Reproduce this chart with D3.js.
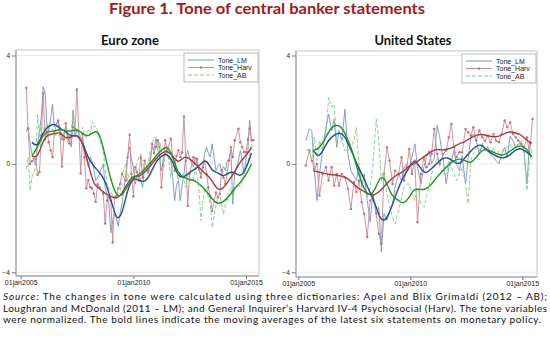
<!DOCTYPE html>
<html><head><meta charset="utf-8">
<script src="https://cdn.jsdelivr.net/npm/d3@7"></script>
<style>body{margin:0;background:#fff}svg{display:block}</style>
</head><body>
<svg id="c" width="550" height="346"></svg>
<script>
// ---------- DATA ----------
const seriesNames = ["Tone_LM", "Tone_Harv", "Tone_AB"];
const xTickLabels = ["2005-01-01", "2010-01-01", "2015-01-01"];
const yTicks = [-4, 0, 4];

// Euro zone statement dates (monthly, no August)
const ezDates = [
"2005-04","2005-05","2005-06","2005-07","2005-09","2005-10","2005-11","2005-12",
"2006-01","2006-02","2006-03","2006-04","2006-05","2006-06","2006-07","2006-09","2006-10","2006-11","2006-12",
"2007-01","2007-02","2007-03","2007-04","2007-05","2007-06","2007-07","2007-09","2007-10","2007-11","2007-12",
"2008-01","2008-02","2008-03","2008-04","2008-05","2008-06","2008-07","2008-09","2008-10","2008-11","2008-12",
"2009-01","2009-02","2009-03","2009-04","2009-05","2009-06","2009-07","2009-09","2009-10","2009-11","2009-12",
"2010-01","2010-02","2010-03","2010-04","2010-05","2010-06","2010-07","2010-09","2010-10","2010-11","2010-12",
"2011-01","2011-02","2011-03","2011-04","2011-05","2011-06","2011-07","2011-09","2011-10","2011-11","2011-12",
"2012-01","2012-02","2012-03","2012-04","2012-05","2012-06","2012-07","2012-09","2012-10","2012-11","2012-12",
"2013-01","2013-02","2013-03","2013-04","2013-05","2013-06","2013-07","2013-09","2013-10","2013-11","2013-12",
"2014-01","2014-02","2014-03","2014-04","2014-05","2014-06","2014-07","2014-09","2014-10","2014-11","2014-12",
"2015-01","2015-02","2015-03","2015-04","2015-05"];
const ezLM = [
1.2,1.36,0.8,0.37,-0.06,0.74,1.2,1.73,
2.85,2.6,1.49,1.2,1.67,2.2,1.36,1.6,1.24,0.87,1.1,
1.36,1.1,0.87,0.62,1.98,0.99,1.24,1.0,0.87,0.62,0.3,
-0.12,0.25,0.1,-0.2,-0.62,-0.5,-0.37,0.0,-0.87,-1.2,-1.49,
-2.54,-2.1,-1.86,-2.0,-2.3,-1.8,-1.49,-0.37,0.31,0.62,0.2,
-0.12,-0.74,-0.5,-0.37,-0.6,-0.87,-0.12,-0.37,0.2,0.62,0.5,
0.93,0.5,0.25,-0.25,0.12,0.5,0.3,0.12,-0.5,-1.36,-0.8,
-0.62,-1.36,-0.8,-0.37,0.25,0.5,0.2,-0.12,0.25,0.0,-0.2,
-0.37,-0.1,0.37,0.62,0.4,0.25,0.74,-0.25,-0.1,0.0,-0.25,
-0.1,-0.25,0.1,0.2,0.5,-1.49,-0.37,0.12,0.5,0.1,-0.37,
0.2,0.5,1.61,0.87,0.87];
const ezHarv = [
2.8,1.3,0.0,0.1,0.2,-0.4,-0.3,1.05,
2.6,0.9,1.2,0.8,0.5,0.25,1.2,1.6,1.1,-0.1,0.9,
1.5,1.0,0.75,1.0,1.35,1.3,2.75,-0.35,1.1,0.25,-0.9,
-0.6,-0.85,-0.9,-1.1,-1.4,-0.75,-0.87,-1.1,-2.2,-1.35,-1.24,
-1.36,-2.9,-1.24,-1.18,-0.9,-0.74,-0.37,-0.62,0.25,1.08,-0.37,
-1.2,-0.12,-0.3,-0.62,0.25,-0.5,0.12,-0.25,0.0,0.74,0.4,
0.62,0.87,0.62,-0.87,-0.06,0.87,0.5,0.93,0.25,-0.25,0.3,
0.5,0.25,0.43,1.75,0.12,-1.55,-0.37,0.25,0.0,0.19,-0.2,
-0.5,-0.12,0.12,-0.37,-0.87,-1.2,-1.73,-1.05,-1.24,-1.11,-0.25,
-0.5,-0.74,-0.37,0.12,0.62,0.25,0.87,1.3,0.8,0.62,0.43,
0.43,0.9,1.3,0.87,0.87];
const ezAB = [
-0.2,0.25,-1.0,-0.5,-0.12,1.8,1.0,1.49,
1.3,1.24,1.49,1.0,1.11,1.3,1.0,1.2,1.4,0.9,1.1,
1.3,0.8,1.0,1.2,2.0,1.1,1.3,0.87,1.36,1.0,0.99,
1.24,1.1,1.55,1.36,1.4,1.2,0.9,0.5,-0.2,-0.74,-0.9,
-1.0,-1.18,-1.3,-1.24,-0.87,-1.0,-0.4,0.0,-0.62,-0.3,-0.37,
-0.37,-0.12,0.0,0.25,0.37,0.0,-0.12,0.0,0.5,0.7,0.99,
0.99,0.62,0.8,0.5,-0.12,0.3,0.62,-0.5,0.0,0.12,-0.3,
-0.62,-0.3,-0.37,-0.6,-0.87,-0.37,-0.5,-0.62,-0.12,-0.5,-0.99,
-2.1,-1.36,-1.0,-0.87,-1.24,-1.5,-2.35,-1.49,-1.3,-1.11,-1.5,
-1.86,-1.5,-1.36,-1.0,-0.87,-1.24,-0.9,-0.74,-0.87,-0.6,-0.37,
-0.12,0.1,0.37,0.74,0.5];

// Euro zone moving averages (bold lines)
const ezMaDates = [
"2005-07","2005-10","2006-01","2006-04","2006-07","2006-10","2007-01","2007-04","2007-07","2007-10",
"2008-01","2008-04","2008-07","2008-10","2009-01","2009-04","2009-07","2009-10","2010-01","2010-04",
"2010-07","2010-10","2011-01","2011-04","2011-07","2011-10","2012-01","2012-04","2012-07","2012-10",
"2013-01","2013-04","2013-07","2013-10","2014-01","2014-04","2014-07","2014-10","2015-01","2015-04"];
const ezLMma = [0.8,0.6,1.2,1.4,1.5,1.3,1.2,1.0,1.1,0.8, 0.2,-0.1,-0.3,-0.6,-1.3,-2.1,-1.9,-0.9,-0.5,-0.6,
 -0.7,-0.4,0.1,0.3,0.4,0.1,-0.5,-0.5,-0.3,-0.2, 0.0,0.2,-0.3,-0.3,-0.5,-0.3,-0.3,-0.5,-0.2,0.4];
const ezHarvma = [0.3,0.2,0.9,1.1,1.1,1.2,0.9,1.0,1.1,0.8, 0.0,-0.8,-0.9,-1.1,-1.2,-1.3,-1.1,-0.7,-0.4,-0.5,
 -0.3,-0.1,0.2,0.4,0.5,0.3,0.0,0.3,0.2,0.0, -0.2,-0.4,-0.6,-1.0,-0.9,-0.6,-0.3,0.1,0.3,0.6];
const ezABma = [0.3,0.6,1.1,1.2,1.2,1.3,1.2,1.2,1.3,1.1, 1.0,1.2,1.2,0.3,-0.6,-1.2,-1.2,-0.8,-0.5,-0.4,
 -0.2,0.0,0.3,0.5,0.7,0.3,-0.4,-0.5,-0.6,-0.6, -0.8,-1.0,-1.3,-1.5,-1.4,-1.2,-0.9,-0.7,-0.4,0.0];

// United States statement dates (FOMC meetings)
const usDates = [
"2005-05-03","2005-06-30","2005-08-09","2005-09-20","2005-11-01","2005-12-13",
"2006-01-31","2006-03-28","2006-05-10","2006-06-29","2006-08-08","2006-09-20","2006-10-25","2006-12-12",
"2007-01-31","2007-03-21","2007-05-09","2007-06-28","2007-08-07","2007-09-18","2007-10-31","2007-12-11",
"2008-01-30","2008-03-18","2008-04-30","2008-06-25","2008-08-05","2008-09-16","2008-10-29","2008-12-16",
"2009-01-28","2009-03-18","2009-04-29","2009-06-24","2009-08-12","2009-09-23","2009-11-04","2009-12-16",
"2010-01-27","2010-03-16","2010-04-28","2010-06-23","2010-08-10","2010-09-21","2010-11-03","2010-12-14",
"2011-01-26","2011-03-15","2011-04-27","2011-06-22","2011-08-09","2011-09-21","2011-11-02","2011-12-13",
"2012-01-25","2012-03-13","2012-04-25","2012-06-20","2012-08-01","2012-09-13","2012-10-24","2012-12-12",
"2013-01-30","2013-03-20","2013-05-01","2013-06-19","2013-07-31","2013-09-18","2013-10-30","2013-12-18",
"2014-01-29","2014-03-19","2014-04-30","2014-06-18","2014-07-30","2014-09-17","2014-10-29","2014-12-17",
"2015-01-28","2015-03-18","2015-04-29","2015-06-17"];
const usLM = [
0.86,1.29,1.23,-0.25,-1.35,-0.37,
0.49,1.35,1.84,1.23,1.66,0.61,1.23,0.86,
2.02,0.37,-0.25,-0.45,-0.61,-0.12,-0.86,-0.37,
-1.35,-2.15,-1.1,-1.84,-1.6,-3.25,-1.84,-2.09,
-1.8,-1.47,-0.86,-0.37,-0.61,-0.1,0.0,-0.12,
0.25,0.74,-0.12,-0.74,-0.12,0.25,0.49,0.0,
0.2,1.41,0.98,0.12,-0.74,-0.12,0.12,0.49,
0.0,-0.25,0.31,-0.74,0.2,0.98,1.1,0.86,
0.37,0.74,0.49,0.61,0.37,0.25,0.12,0.0,
0.37,0.61,0.25,1.04,0.86,0.61,0.74,0.74,
0.49,-0.74,0.8,0.8];
const usHarv = [
-0.06,0.49,0.12,-0.18,0.0,-1.17,
-0.37,-0.12,-0.61,-0.12,-0.8,-0.37,-0.8,-0.37,
-0.49,-0.92,-1.66,-0.67,-1.04,-0.61,-1.41,-1.84,
-2.7,-1.35,-1.23,-1.84,-2.58,-2.94,-0.37,0.61,
0.12,-0.74,-0.25,-0.37,0.25,-0.61,-0.12,0.55,
-0.37,0.12,-2.15,-0.37,0.25,-0.12,0.0,0.37,
1.29,0.37,0.0,0.37,0.49,0.98,1.47,0.61,
0.25,0.43,0.43,1.29,1.17,1.04,1.35,0.86,
1.23,0.98,0.86,1.04,0.8,1.1,0.86,0.8,
1.1,1.6,1.35,1.53,1.1,0.98,0.86,0.74,
0.61,0.98,0.37,1.66];
const usAB = [
0.49,0.55,0.12,0.98,0.12,0.86,
0.49,1.1,2.45,2.09,2.21,0.74,0.74,0.86,
0.49,0.49,0.61,0.86,1.35,-0.12,-0.61,-0.86,
-1.23,-0.86,-0.1,1.66,0.86,-0.61,-0.25,-1.1,
-1.6,-1.96,-2.21,-1.72,-1.23,-0.86,-0.74,-0.74,
-1.1,-1.35,-0.86,-1.47,-1.6,-1.2,-0.86,-0.37,
-0.12,0.25,-0.12,-0.37,-0.37,0.12,-0.12,-0.37,
-0.61,-0.37,-0.12,-0.74,-1.47,0.12,0.37,0.61,
0.49,0.74,0.86,0.61,0.37,0.61,0.25,0.49,
0.49,0.49,0.61,0.74,0.49,0.61,0.74,0.86,
0.49,-0.98,0.12,0.61];

// United States moving averages (bold lines)
const usMaDates = [
"2005-09","2005-12","2006-03","2006-06","2006-09","2006-12","2007-03","2007-06","2007-09","2007-12",
"2008-03","2008-06","2008-09","2008-12","2009-03","2009-06","2009-09","2009-12","2010-03","2010-06",
"2010-09","2010-12","2011-03","2011-06","2011-09","2011-12","2012-03","2012-06","2012-09","2012-12",
"2013-03","2013-06","2013-09","2013-12","2014-03","2014-06","2014-09","2014-12","2015-03","2015-06"];
const usLMma = [0.5,0.2,0.6,0.95,1.1,1.17,0.9,0.4,-0.1,-0.5, -1.0,-1.4,-2.1,-2.1,-1.6,-1.0,-0.5,-0.2,0.2,-0.1,
 -0.4,-0.2,0.0,0.2,0.25,0.1,-0.05,0.2,0.45,0.65, 0.74,0.5,0.37,0.25,0.2,0.3,0.5,0.6,0.45,0.3];
const usHarvma = [-0.25,-0.3,-0.35,-0.4,-0.4,-0.45,-0.5,-0.7,-0.9,-1.0, -1.15,-1.15,-1.0,-0.75,-0.55,-0.4,-0.3,-0.1,0.0,0.15,
 0.3,0.45,0.55,0.5,0.55,0.6,0.75,0.8,0.95,1.05, 1.1,1.05,1.0,1.0,1.1,1.2,1.15,1.1,0.9,0.75];
const usABma = [0.5,0.55,0.85,1.3,1.45,1.4,1.0,0.5,-0.3,-0.9, -1.2,-1.0,-0.4,-0.6,-1.2,-1.3,-1.5,-1.3,-0.9,-0.95,
 -0.95,-0.8,-0.5,-0.3,-0.05,0.1,0.2,0.15,0.0,0.2, 0.5,0.55,0.45,0.35,0.3,0.45,0.6,0.7,0.6,0.25];

// ---------- STYLE ----------
const rawColors = ["#7694c2", "#cc8890", "#84cc84"];
const maColors = ["#1f4f8f", "#a83840", "#1e961e"];
const titleText = "Figure 1. Tone of central banker statements";
const noteLines = [
  ["Source:", " The changes in tone were calculated using three dictionaries: Apel and Blix Grimaldi (2012 \u2013 AB);"],
  ["", "Loughran and McDonald (2011 \u2013 LM); and General Inquirer\u2019s Harvard IV-4 Psychosocial (Harv). The tone variables"],
  ["", "were normalized.  The bold lines indicate the moving averages of the latest six statements on monetary policy."]
];

const svg = d3.select("#c");
const pMonth = d3.timeParse("%Y-%m");
const pDay = d3.timeParse("%Y-%m-%d");
const fmtTick = d => d3.timeFormat("%d%b%Y")(d).toLowerCase();
const FONT = "'Liberation Sans', Arial, sans-serif";
const HFONT = "Lato, 'Open Sans', sans-serif";

// Title
svg.append("text").attr("x", 267).attr("y", 14).attr("text-anchor", "middle")
  .attr("font-family", HFONT).attr("font-weight", "bold").attr("font-size", 15)
  .attr("fill", "#9e1b20").attr("textLength", 316).attr("lengthAdjust", "spacingAndGlyphs")
  .text(titleText);

function panel(cfg) {
  const g = svg.append("g");
  const f = cfg.frame;
  const x = d3.scaleTime().domain([pDay("2005-01-01"), pDay("2015-01-01")]).range([cfg.x2005, cfg.x2015]);
  const y = d3.scaleLinear().domain([-4, 4]).range([272.3, 55.5]);

  // panel title
  g.append("text").attr("x", cfg.titleX).attr("y", 45).attr("text-anchor", "middle")
    .attr("font-family", HFONT).attr("font-weight", "bold").attr("font-size", 12.5)
    .attr("fill", "#111").attr("textLength", cfg.titleW).attr("lengthAdjust", "spacingAndGlyphs")
    .text(cfg.title);

  // frame
  g.append("rect").attr("x", f.x0).attr("y", f.y0).attr("width", f.x1 - f.x0).attr("height", f.y1 - f.y0)
    .attr("fill", "#fff").attr("stroke", "#c4c4c4").attr("stroke-width", 1);
  // grid
  g.selectAll("line.grid").data(yTicks).join("line")
    .attr("x1", f.x0).attr("x2", f.x1).attr("y1", d => y(d)).attr("y2", d => y(d))
    .attr("stroke", "#ececec").attr("stroke-width", 1);

  // axes
  const ay = g.append("g").attr("transform", `translate(${f.x0},0)`)
    .call(d3.axisLeft(y).tickValues(yTicks).tickSize(4).tickPadding(2).tickFormat(d3.format("d")));
  ay.select(".domain").remove();
  ay.selectAll("line").attr("stroke", "#777");
  ay.selectAll("text").attr("font-family", FONT).attr("font-size", 6.5).attr("fill", "#222");
  g.append("line").attr("x1", f.x0).attr("x2", f.x0).attr("y1", f.y0).attr("y2", f.y1).attr("stroke", "#999");

  const ax = g.append("g").attr("transform", `translate(0,${f.y1})`)
    .call(d3.axisBottom(x).tickValues(xTickLabels.map(pDay)).tickSize(3).tickPadding(1.5).tickFormat(fmtTick));
  ax.select(".domain").remove();
  ax.selectAll("line").attr("stroke", "#777");
  ax.selectAll("text").attr("font-family", FONT).attr("font-size", 7).attr("fill", "#222");
  g.append("line").attr("x1", f.x0).attr("x2", f.x1).attr("y1", f.y1).attr("y2", f.y1).attr("stroke", "#999");

  const clip = g.append("clipPath").attr("id", "clip" + cfg.id).append("rect")
    .attr("x", f.x0).attr("y", f.y0).attr("width", f.x1 - f.x0).attr("height", f.y1 - f.y0);
  const plot = g.append("g").attr("clip-path", `url(#clip${cfg.id})`);

  const dates = cfg.dates.map(cfg.parse);
  const line = d3.line().x(d => x(d[0])).y(d => y(d[1]));
  const smooth = d3.line().x(d => x(d[0])).y(d => y(d[1])).curve(d3.curveBasis);

  cfg.raw.forEach((vals, i) => {
    const pts = vals.map((v, j) => [dates[j], v]);
    plot.append("path").datum(pts).attr("d", line).attr("fill", "none")
      .attr("stroke", rawColors[i]).attr("stroke-width", 0.9)
      .attr("stroke-dasharray", i === 2 ? "4,2" : null);
    if (i === 1) {
      plot.selectAll("circle.m").data(pts).join("circle")
        .attr("cx", d => x(d[0])).attr("cy", d => y(d[1])).attr("r", 1.2)
        .attr("fill", "#c0707a");
    }
  });
  const maDates = cfg.maDates.map(pMonth);
  cfg.ma.forEach((vals, i) => {
    const pts = vals.map((v, j) => [maDates[j], v]);
    plot.append("path").datum(pts).attr("d", smooth).attr("fill", "none")
      .attr("stroke", maColors[i]).attr("stroke-width", 1.4);
  });

  // legend
  const lx = f.x1 - 75, ly = f.y0 + 3;
  const lg = g.append("g");
  lg.append("rect").attr("x", lx).attr("y", ly).attr("width", 74).attr("height", 29)
    .attr("fill", "#fff").attr("stroke", "#aaa").attr("stroke-width", 0.8);
  seriesNames.forEach((nm, i) => {
    const yy = ly + 7 + i * 7.5;
    lg.append("line").attr("x1", lx + 4).attr("x2", lx + 30).attr("y1", yy).attr("y2", yy)
      .attr("stroke", rawColors[i]).attr("stroke-width", 1)
      .attr("stroke-dasharray", i === 2 ? "4,2" : null);
    if (i === 1) lg.append("circle").attr("cx", lx + 17).attr("cy", yy).attr("r", 1.2).attr("fill", "#c0707a");
    lg.append("text").attr("x", lx + 34).attr("y", yy + 2.5).attr("font-family", FONT)
      .attr("font-size", 7).attr("fill", "#222").text(nm);
  });
}

panel({ id: "ez", title: "Euro zone", titleX: 130, titleW: 58,
  frame: { x0: 16, x1: 259, y0: 50, y1: 276 }, x2005: 20.7, x2015: 246,
  dates: ezDates, parse: pMonth, raw: [ezLM, ezHarv, ezAB], maDates: ezMaDates, ma: [ezLMma, ezHarvma, ezABma] });
panel({ id: "us", title: "United States", titleX: 413, titleW: 77,
  frame: { x0: 296, x1: 537, y0: 51, y1: 277 }, x2005: 298.3, x2015: 522.3,
  dates: usDates, parse: pDay, raw: [usLM, usHarv, usAB], maDates: usMaDates, ma: [usLMma, usHarvma, usABma] });

// footnote
const noteY = [300, 311.5, 323];
const noteW = [544, 544, 538];
noteLines.forEach((ln, i) => {
  const t = svg.append("text").attr("x", 3).attr("y", noteY[i]).attr("font-family", HFONT)
    .attr("font-size", 10).attr("fill", "#111")
    .attr("textLength", noteW[i]).attr("lengthAdjust", "spacing");
  if (ln[0]) t.append("tspan").attr("font-style", "italic").text(ln[0]);
  t.append("tspan").text(ln[1]);
});
</script>
</body></html>
